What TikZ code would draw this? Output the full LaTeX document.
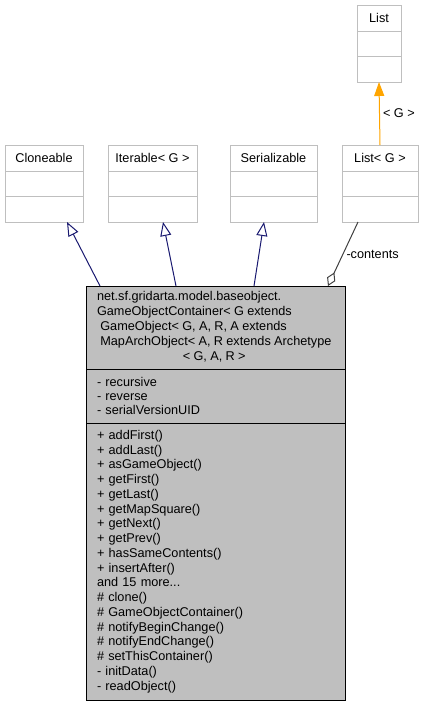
\documentclass[tikz,border=0pt]{standalone}
\usepackage{fontspec}
\setmainfont{Liberation Sans}
\usetikzlibrary{arrows.meta,positioning}
\definecolor{boxgray}{HTML}{BFBFBF}
\definecolor{edgegray}{HTML}{404040}
\definecolor{inhblue}{HTML}{191970}
\definecolor{tmplorange}{HTML}{FFA500}
\tikzset{
  ifname/.style={draw=boxgray,fill=white,minimum height=26pt,inner sep=0pt,
    outer sep=0pt,line width=1pt,font=\fontsize{12.7}{14}\selectfont},
  ifpart/.style={ifname,minimum height=25.5pt},
  clspart/.style={draw=black,fill=boxgray,minimum width=259pt,text width=237pt,
    inner xsep=11pt,inner ysep=0pt,outer sep=0pt,line width=1pt,align=left},
  inherit/.style={-{Triangle[open,length=14pt,width=11pt]},line width=1pt,draw=inhblue},
  tmpl/.style={-{Triangle[length=14pt,width=10pt]},line width=1pt,draw=tmplorange},
  usage/.style={{Diamond[open,length=15pt,width=9pt]}-,line width=1pt,draw=edgegray},
  edgelabel/.style={font=\fontsize{12.7}{14}\selectfont,inner sep=3pt}
}

\begin{document}
\begin{tikzpicture}[x=1pt,y=-1pt]
\useasboundingbox (0,0) rectangle (422,705);

% interfaces and parent classes
\node[ifname, minimum width=44pt] (list) at (379,18) {List};
\node[ifpart, minimum width=44pt, below=0pt of list] (list-a) {};
\node[ifpart, minimum width=44pt, below=0pt of list-a] (list-m) {};

\node[ifname, minimum width=78pt] (clone) at (44,158) {Cloneable};
\node[ifpart, minimum width=78pt, below=0pt of clone] (clone-a) {};
\node[ifpart, minimum width=78pt, below=0pt of clone-a] (clone-m) {};

\node[ifname, minimum width=89pt] (iter) at (152.5,158) {Iterable< G >};
\node[ifpart, minimum width=89pt, below=0pt of iter] (iter-a) {};
\node[ifpart, minimum width=89pt, below=0pt of iter-a] (iter-m) {};

\node[ifname, minimum width=87pt] (serial) at (273.5,158) {Serializable};
\node[ifpart, minimum width=87pt, below=0pt of serial] (serial-a) {};
\node[ifpart, minimum width=87pt, below=0pt of serial-a] (serial-m) {};

\node[ifname, minimum width=76pt] (listg) at (380,158) {List< G >};
\node[ifpart, minimum width=76pt, below=0pt of listg] (listg-a) {};
\node[ifpart, minimum width=76pt, below=0pt of listg-a] (listg-m) {};

% the container class
\node[clspart, minimum height=83pt] (goc) at (215.5,327.5) {%
  \fontsize{12.7}{15}\selectfont
  \begin{tabular}{@{}l@{}}
  net.sf.gridarta.model.baseobject.\\
  GameObjectContainer< G extends\\
  \ GameObject< G, A, R, A extends\\
  \ MapArchObject< A, R extends Archetype\\
  \multicolumn{1}{@{}c@{}}{< G, A, R >}
  \end{tabular}};
\node[clspart, minimum height=54pt, below=0pt of goc,
  font=\fontsize{12.7}{14.3}\selectfont] (goc-a) {%
  - recursive\\
  - reverse\\
  - serialVersionUID};
\node[clspart, minimum height=277pt, below=0pt of goc-a,
  font=\fontsize{12.7}{14.75}\selectfont] (goc-m) {%
  + addFirst()\\
  + addLast()\\
  + asGameObject()\\
  + getFirst()\\
  + getLast()\\
  + getMapSquare()\\
  + getNext()\\
  + getPrev()\\
  + hasSameContents()\\
  + insertAfter()\\
  and 15 more...\\
  \# clone()\\
  \# GameObjectContainer()\\
  \# notifyBeginChange()\\
  \# notifyEndChange()\\
  \# setThisContainer()\\
  - initData()\\
  - readObject()};

% relations
\draw[tmpl] (listg.north) -- node[edgelabel, right] {< G >} (list-m.south);
\draw[inherit] ([xshift=14pt]goc.north west) -- ([xshift=23pt]clone-m.south);
\draw[inherit] ([xshift=90pt]goc.north west) -- ([xshift=10.5pt]iter-m.south);
\draw[inherit] ([xshift=168pt]goc.north west) -- ([xshift=-9.5pt]serial-m.south);
\draw[usage] ([xshift=242pt]goc.north west) -- node[edgelabel, right] {-contents} ([xshift=-22pt]listg-m.south);
\end{tikzpicture}
\end{document}
